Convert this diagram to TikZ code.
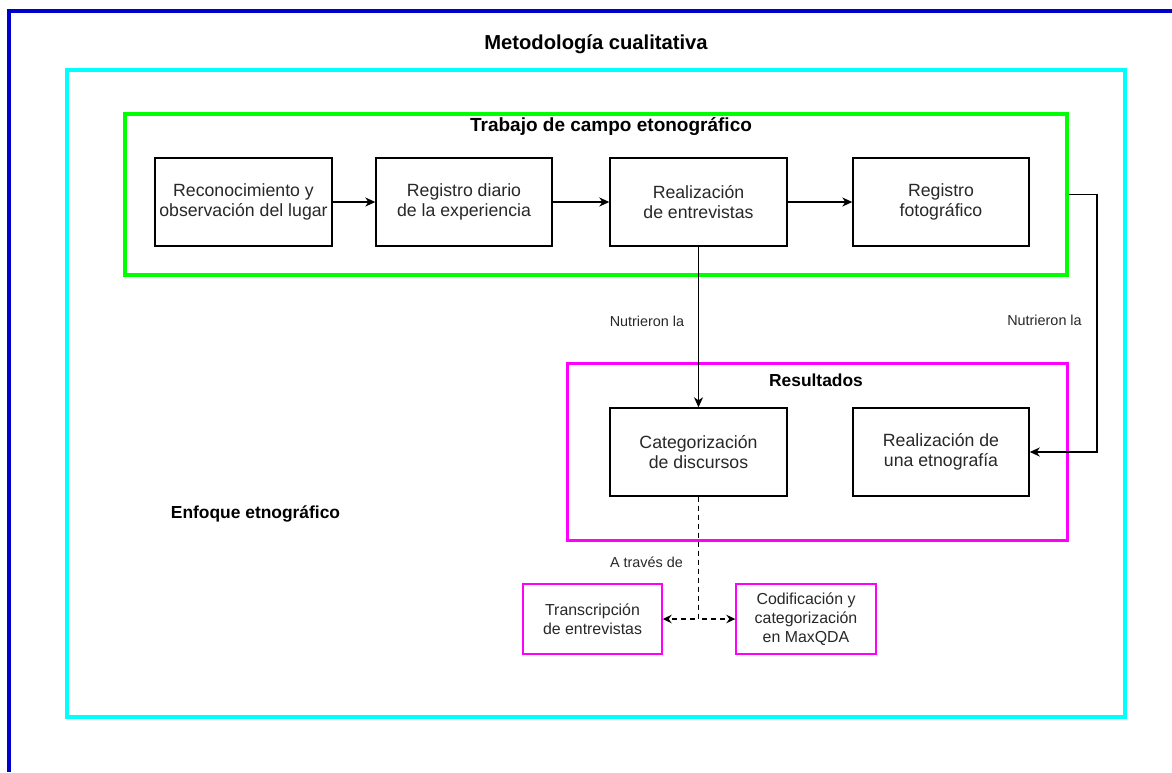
\documentclass[tikz,border=0pt]{standalone}
\usepackage{fontspec}
\setmainfont{Liberation Sans}
\usetikzlibrary{arrows.meta}
\definecolor{frameblue}{RGB}{0,0,204}
\definecolor{framecyan}{RGB}{0,255,255}
\definecolor{framegreen}{RGB}{0,255,0}
\definecolor{framemag}{RGB}{255,0,255}
\definecolor{txt}{RGB}{40,40,40}
\begin{document}
\begin{tikzpicture}[x=1pt,y=-1pt,
  stepbox/.style={draw=black,line width=1.4pt,inner sep=0pt,align=center,text=txt,
    minimum height=88pt,font=\fontsize{17.7}{20}\selectfont},
  smallbox/.style={draw=framemag,line width=1.4pt,inner sep=0pt,align=center,text=txt,
    minimum width=140pt,minimum height=70pt,font=\fontsize{15.9}{19}\selectfont},
  frame/.style={draw,inner sep=0pt},
  heading/.style={anchor=base,inner sep=0pt,font=\bfseries\fontsize{17.4}{20}\selectfont},
  lbl/.style={anchor=base,inner sep=0pt,text=txt,font=\fontsize{14.4}{17}\selectfont},
  arr/.style={draw=black,line width=1.4pt,-{Stealth[length=10pt,width=9pt,inset=3pt]}},
  darr/.style={draw=black,line width=1.4pt,dash pattern=on 5pt off 4pt,-{Stealth[length=9pt,width=8.5pt,inset=3pt]}}]
\useasboundingbox (0,0) rectangle (1172,772);
\fill[white] (0,0) rectangle (1172,772);
% outer blue frame (only top and left are visible)
\draw[frameblue,line width=4pt] (8.5,772) -- (8.5,11) -- (1172,11);
\node[heading,font=\bfseries\fontsize{20.2}{24}\selectfont] (tit) at (596,49) {Metodología cualitativa};
% cyan frame
\node[frame,draw=framecyan,line width=4pt,minimum width=1058pt,minimum height=647pt] (cyan) at (596,393.5) {};
\node[heading] (enf) at (255.5,518) {Enfoque etnográfico};
% green frame
\node[frame,draw=framegreen,line width=4pt,minimum width=942pt,minimum height=161pt] (grn) at (596,194.5) {};
\node[heading,font=\bfseries\fontsize{19}{22}\selectfont] (grnt) at (611,131) {Trabajo de campo etonográfico};
% magenta frame
\node[frame,draw=framemag,line width=3pt,minimum width=500pt,minimum height=177pt] (res) at (817,451.5) {};
\node[heading] (rest) at (816,386) {Resultados};
% process boxes
\node[stepbox,minimum width=177pt] (b1) at (243.5,202) {Reconocimiento y\\observación del lugar};
\node[stepbox,minimum width=176pt] (b2) at (464,202) {Registro diario\\de la experiencia};
\node[stepbox,minimum width=177pt] (b3) at (698.5,202) {Realización\\de entrevistas};
\node[stepbox,minimum width=176pt] (b4) at (941,202) {Registro\\fotográfico};
\node[stepbox,minimum width=177pt] (cat) at (698.5,452) {Categorización\\de discursos};
\node[stepbox,minimum width=176pt] (etn) at (941,452) {Realización de\\una etnografía};
\node[smallbox,minimum width=139pt] (tra) at (592.5,619) {Transcripción\\de entrevistas};
\node[smallbox] (cod) at (806,619) {Codificación y\\categorización\\en MaxQDA};
% connectors
\draw[arr] (b1) -- (b2);
\draw[arr] (b2) -- (b3);
\draw[arr] (b3) -- (b4);
\draw[arr] (b3) -- (cat);
\draw[arr] (grn.east) -- ++(28,0) |- (etn.east);
\draw[darr] (cat.south) |- (tra.east);
\draw[darr] (cat.south) |- (cod.west);
% connector labels
\node[lbl] (l1) at (647,326) {Nutrieron la};
\node[lbl] (l2) at (1044.5,325) {Nutrieron la};
\node[lbl] (l3) at (646.5,567) {A través de};
\end{tikzpicture}
\end{document}
